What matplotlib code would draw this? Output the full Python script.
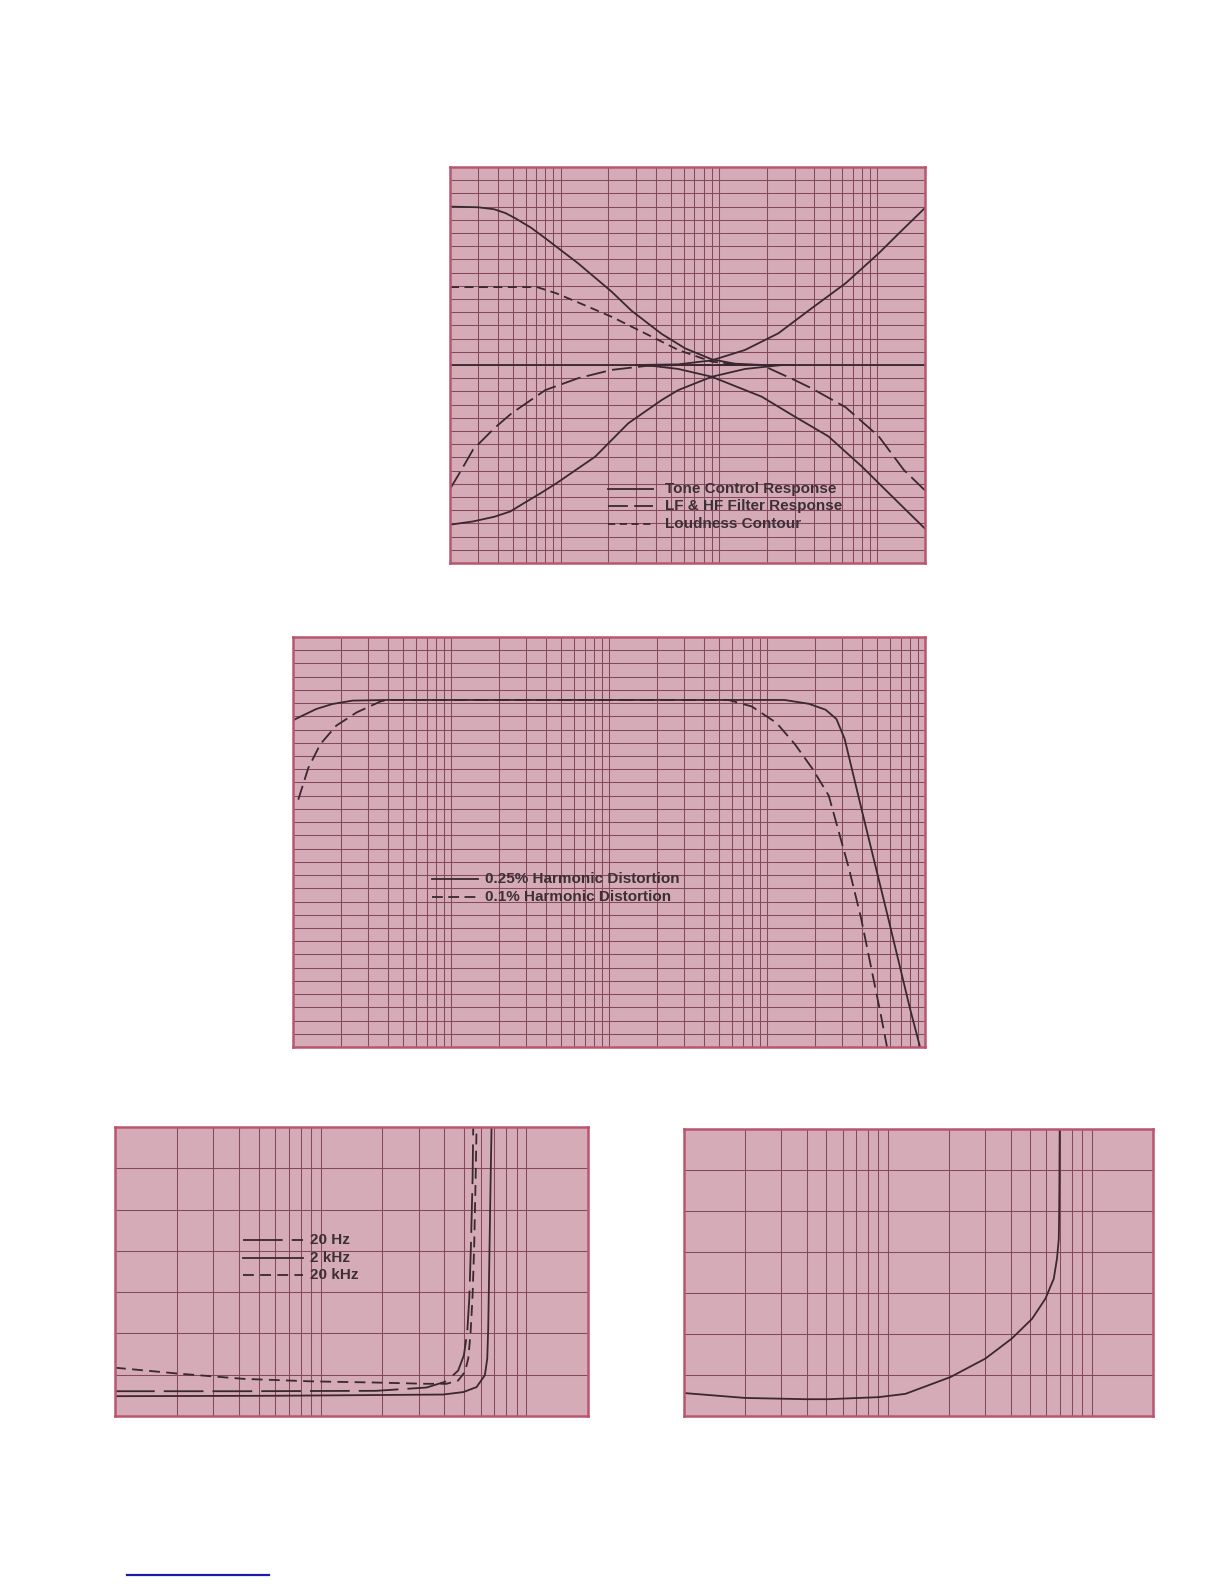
import matplotlib
matplotlib.use("Agg")
import matplotlib.pyplot as plt
from matplotlib.ticker import LogLocator, MultipleLocator, NullLocator
from matplotlib.lines import Line2D

plt.rcParams['font.family'] = ['Liberation Sans', 'DejaVu Sans']

# ---- chart 1 : tone control / filters / loudness (Hz vs dB) ----
bass_boost_hz = [20, 30, 38, 45, 52, 65, 80, 129, 210, 281, 435, 611, 900, 1260, 1900, 3000]
bass_boost_db = [12.0, 11.95, 11.8, 11.5, 11.1, 10.4, 9.6, 7.7, 5.55, 4.1, 2.35, 1.26, 0.43, 0.1, 0.0, 0.0]
treble_boost_hz = [300, 553, 900, 1460, 2370, 3850, 6300, 10200, 14300, 20000]
treble_boost_db = [0.0, 0.05, 0.35, 1.14, 2.4, 4.3, 6.19, 8.46, 10.2, 11.9]
bass_cut_hz = [20, 28, 38, 48, 58, 75, 94, 165, 267, 435, 553, 900, 1460, 2500]
bass_cut_db = [-12.1, -11.85, -11.5, -11.1, -10.5, -9.7, -8.96, -6.95, -4.42, -2.65, -1.9, -0.89, -0.3, 0.0]
treble_cut_hz = [340, 553, 900, 1860, 3000, 4900, 8000, 13000, 20000]
treble_cut_db = [0.0, -0.3, -0.89, -2.4, -3.9, -5.4, -7.7, -10.2, -12.4]
flat_hz = [20, 20000]
flat_db = [0, 0]
filter_hz = [20, 24, 28, 38, 49, 80, 129, 210, 341, 553, 1860, 3000, 3850, 6300, 10200, 14700, 20000]
filter_db = [-9.4, -7.8, -6.4, -4.8, -3.66, -1.9, -1.0, -0.37, -0.08, 0.0, 0.0, -1.14, -1.77, -3.2, -5.4, -7.95, -9.5]
loud_hz = [20, 71, 94, 133, 210, 341, 553, 900, 1460]
loud_db = [5.9, 5.9, 5.43, 4.67, 3.65, 2.4, 1.14, 0.25, 0.0]
legend1 = ['Tone Control Response', 'LF & HF Filter Response', 'Loudness Contour']

# ---- chart 2 : power bandwidth ----
thd25_hz = [10, 10.8, 14, 17.7, 23.8, 40, 12900, 18400, 23500, 27500, 31000, 40000, 57000, 80000, 93000]
thd25_lvl = [24.7, 24.9, 25.55, 25.93, 26.19, 26.24, 26.24, 25.95, 25.5, 24.8, 23.3, 17.8, 10.3, 3.0, 0.0]
thd01_hz = [10.8, 12.5, 14.9, 18.8, 25.3, 36, 40, 5700, 8000, 11500, 15000, 19500, 24600, 33000, 39300, 46000, 52000, 57500]
thd01_lvl = [18.7, 21.1, 22.9, 24.3, 25.3, 26.14, 26.24, 26.24, 25.75, 24.5, 22.9, 21.0, 19.0, 13.5, 9.8, 5.8, 2.7, 0.0]
legend2 = ['0.25% Harmonic Distortion', '0.1% Harmonic Distortion']

# ---- chart 3 : distortion vs power at three frequencies ----
f20_x = [1.0, 4.21, 18.7, 32.8, 41.0, 46.7, 49.8, 51.7, 52.9, 53.9, 54.9, 55.3]
f20_y = [0.6, 0.6, 0.61, 0.69, 0.84, 1.1, 1.47, 2.03, 2.84, 4.13, 5.75, 7.0]
f2k_x = [1.0, 6.11, 39.5, 49.5, 57.4, 63.0, 64.7, 65.4, 66.2, 67.2, 67.9]
f2k_y = [0.48, 0.49, 0.52, 0.58, 0.70, 0.99, 1.39, 2.11, 3.73, 5.75, 7.0]
f20k_x = [1.0, 2.0, 4.21, 8.88, 18.7, 32.8, 41.0, 46.7, 50.4, 52.3, 53.7, 54.9, 55.9, 56.8, 57.4]
f20k_y = [1.17, 1.03, 0.90, 0.84, 0.81, 0.78, 0.78, 0.86, 1.07, 1.39, 2.03, 2.92, 4.13, 5.75, 7.0]
legend3 = ['20 Hz', '2 kHz', '20 kHz']

# ---- chart 4 : single distortion curve ----
c4_x = [1.0, 2.0, 3.94, 5.13, 9.02, 12.2, 20.3, 30.1, 40.6, 51.0, 59.3, 65.2, 67.6, 69.0, 69.3, 69.5, 69.7]
c4_y = [0.56, 0.44, 0.41, 0.41, 0.46, 0.54, 0.95, 1.40, 1.89, 2.37, 2.86, 3.35, 3.84, 4.32, 5.0, 5.8, 7.0]

PAPER = '#d5abb7'
GRID = '#85495d'
EDGE = '#b9566f'
INK = '#3a2831'
TXT = '#3c3036'
LW = 1.3


def paper(ax, xlim, ylim):
    ax.set_facecolor(PAPER)
    ax.set_xscale('log')
    ax.set_xlim(*xlim)
    ax.set_ylim(*ylim)
    ax.xaxis.set_major_locator(LogLocator(base=10, subs=range(1, 10), numticks=60))
    ax.xaxis.set_minor_locator(NullLocator())
    ax.yaxis.set_major_locator(MultipleLocator(1))
    ax.grid(True, color=GRID, lw=0.75)
    ax.set_axisbelow(True)
    ax.tick_params(length=0, labelbottom=False, labelleft=False)
    for s in ax.spines.values():
        s.set_color(EDGE)
        s.set_linewidth(1.8)


def key(ax, x0, x1, xt, y, ls, label):
    ax.add_line(Line2D([x0, x1], [y, y], transform=ax.transAxes, color=INK, lw=LW, ls=ls))
    ax.text(xt, y, label, transform=ax.transAxes, va='center', ha='left',
            fontsize=11, fontweight='bold', color=TXT)


fig = plt.figure(figsize=(12.24, 15.84), dpi=100)

# chart 1
ax1 = fig.add_axes([450 / 1224, 1 - 563 / 1584, 475 / 1224, 396 / 1584])
paper(ax1, (20, 20000), (-15, 15))
for xs, ys in [(bass_boost_hz, bass_boost_db), (treble_boost_hz, treble_boost_db),
               (bass_cut_hz, bass_cut_db), (treble_cut_hz, treble_cut_db), (flat_hz, flat_db)]:
    ax1.plot(xs, ys, color=INK, lw=LW)
ax1.plot(filter_hz, filter_db, color=INK, lw=LW, ls=(0, (11, 3.5)))
ax1.plot(loud_hz, loud_db, color=INK, lw=LW, ls=(0, (5, 3)))
for y, ls, lab in zip([0.187, 0.143, 0.098], ['-', (0, (11, 3.5)), (0, (4, 2.5))], legend1):
    key(ax1, 0.333, 0.427, 0.453, y, ls, lab)

# chart 2
ax2 = fig.add_axes([293 / 1224, 1 - 1047 / 1584, 632 / 1224, 410 / 1584])
paper(ax2, (10, 100000), (0, 31))
ax2.plot(thd25_hz, thd25_lvl, color=INK, lw=LW)
ax2.plot(thd01_hz, thd01_lvl, color=INK, lw=LW, ls=(0, (8, 3.5)))
for y, ls, lab in zip([0.41, 0.366], ['-', (0, (6, 3))], legend2):
    key(ax2, 0.220, 0.293, 0.304, y, ls, lab)

# chart 3
ax3 = fig.add_axes([115 / 1224, 1 - 1416 / 1584, 473 / 1224, 289 / 1584])
paper(ax3, (1, 200), (0, 7))
ax3.plot(f20_x, f20_y, color=INK, lw=LW, ls=(0, (22, 5)))
ax3.plot(f2k_x, f2k_y, color=INK, lw=LW)
ax3.plot(f20k_x, f20k_y, color=INK, lw=LW, ls=(0, (6, 3.5)))
for y, ls, lab in zip([0.608, 0.548, 0.487], [(0, (22, 5)), '-', (0, (6, 3.5))], legend3):
    key(ax3, 0.271, 0.397, 0.412, y, ls, lab)

# chart 4
ax4 = fig.add_axes([684 / 1224, 1 - 1416 / 1584, 469 / 1224, 287 / 1584])
paper(ax4, (1, 200), (0, 7))
ax4.plot(c4_x, c4_y, color=INK, lw=LW)

# short blue rule at the foot of the page
fig.add_artist(Line2D([127 / 1224, 269 / 1224], [1 - 1575 / 1584] * 2, color='#1c1ca8', lw=1.6))

fig.savefig('out.png', dpi=100, facecolor='white')
